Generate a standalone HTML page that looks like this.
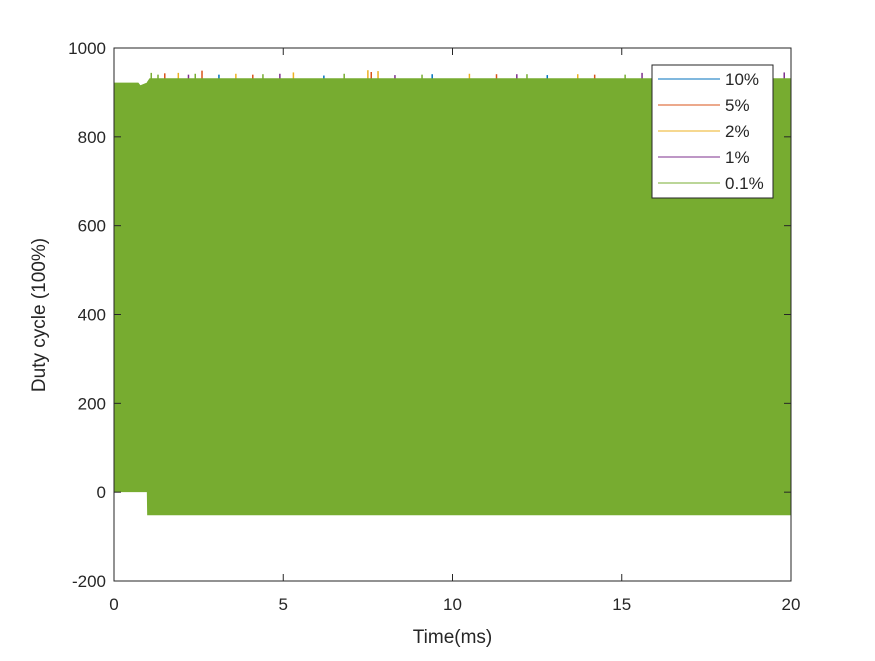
<!DOCTYPE html>
<html><head><meta charset="utf-8"><style>
body{margin:0;background:#fff;}
svg text{font-family:"Liberation Sans",Arial,sans-serif;fill:#262626;}
</style></head><body>
<svg id="chart" width="875" height="656" xmlns="http://www.w3.org/2000/svg">
<rect width="875" height="656" fill="#fff"/>
<g id="marks"></g>
<rect x="114" y="48" width="677" height="533" fill="none" stroke="#262626" stroke-width="1"/>
<g id="axes"></g>
<text x="452.5" y="643" font-size="19" text-anchor="middle">Time(ms)</text>
<text transform="translate(45,315) rotate(-90)" font-size="19" text-anchor="middle">Duty cycle (100%)</text>
<g>
<rect x="652" y="65" width="121" height="133" fill="#fff" stroke="#262626" stroke-width="1"/>
<g id="legend-items"></g>
</g>
</svg>
<script>
const xTicks=[0,5,10,15,20];
const yTicks=[-200,0,200,400,600,800,1000];
const envTime=[0,0.72,0.78,0.97,0.98,1.05,20];
const envTop=[922,922,916,922,924,932,932];
const envBottom=[0,0,0,0,-52,-52,-52];
const seriesNames=['10%','5%','2%','1%','0.1%'];
const seriesColors=['#0072bd','#d95319','#edb120','#7e2f8e','#77ac30'];
const spikeTime10=[3.1,6.2,9.4,12.8,16.1,19.3];
const spikeVal10=[940,938,941,939,940,942];
const spikeTime5=[1.5,2.6,4.1,7.6,11.3,14.2,18.4];
const spikeVal5=[943,949,940,946,941,940,942];
const spikeTime2=[1.9,3.6,5.3,7.5,7.8,10.5,13.7];
const spikeVal2=[944,942,945,950,948,942,941];
const spikeTime1=[2.2,4.9,8.3,11.9,15.6,16.4,17.2,19.8];
const spikeVal1=[940,942,939,941,944,942,940,945];
const spikeTime01=[1.1,1.3,2.4,4.4,6.8,9.1,12.2,15.1,18.9];
const spikeVal01=[944,940,942,941,942,940,941,940,941];
const spikeTimes=[spikeTime10,spikeTime5,spikeTime2,spikeTime1,spikeTime01];
const spikeVals=[spikeVal10,spikeVal5,spikeVal2,spikeVal1,spikeVal01];

const X=t=>114+t*(677/20);
const Y=v=>48+(1000-v)*(533/1200);
const NS='http://www.w3.org/2000/svg';
const marks=document.getElementById('marks');
const axes=document.getElementById('axes');
function mk(tag,attrs,parent){const e=document.createElementNS(NS,tag);for(const k in attrs)e.setAttribute(k,attrs[k]);parent.appendChild(e);return e;}

// spikes (behind)
spikeTimes.forEach((ts,si)=>{
  ts.forEach((t,i)=>{
    const l=mk('line',{x1:X(t),x2:X(t),y1:Y(930),y2:Y(spikeVals[si][i]),stroke:seriesColors[si],'stroke-width':1.5},marks);
    
    
  });
});
// envelope fill
let pts=[];
for(let i=0;i<envTime.length;i++)pts.push(X(envTime[i])+','+Y(envTop[i]));
for(let i=envTime.length-1;i>=0;i--)pts.push(X(envTime[i])+','+Y(envBottom[i]));
const poly=mk('polygon',{points:pts.join(' '),fill:'#77ac30'},marks);



// ticks
xTicks.forEach(v=>{
  mk('line',{x1:X(v),x2:X(v),y1:581,y2:574,stroke:'#262626'},axes);
  mk('line',{x1:X(v),x2:X(v),y1:48,y2:55,stroke:'#262626'},axes);
  const t=mk('text',{x:X(v),y:610,'font-size':17,'text-anchor':'middle'},axes);
  t.textContent=v;
  
  
});
yTicks.forEach(v=>{
  mk('line',{x1:114,x2:121,y1:Y(v),y2:Y(v),stroke:'#262626'},axes);
  mk('line',{x1:791,x2:784,y1:Y(v),y2:Y(v),stroke:'#262626'},axes);
  const t=mk('text',{x:106,y:Y(v)+6,'font-size':17,'text-anchor':'end'},axes);
  t.textContent=v;
  
  
});
// legend
const lg=document.getElementById('legend-items');
seriesNames.forEach((n,i)=>{
  const y=79+i*26;
  const g=mk('g',{},lg);
  
  
  mk('line',{x1:658,x2:720,y1:y,y2:y,stroke:seriesColors[i],'stroke-width':1},g);
  const t=mk('text',{x:725,y:y+6,'font-size':17},g);
  t.textContent=n;
});
</script>
</body></html>
